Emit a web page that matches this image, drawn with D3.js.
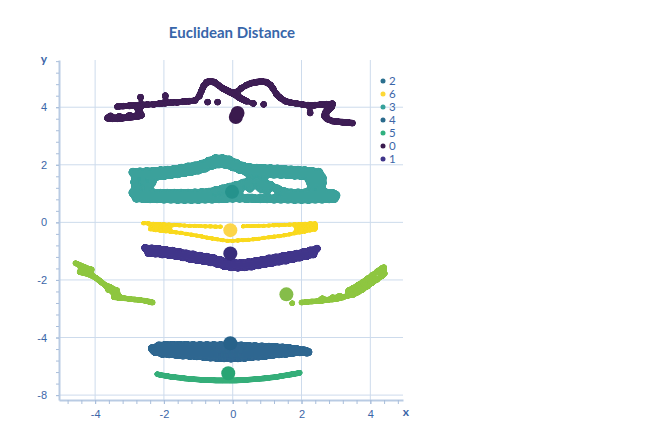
<!DOCTYPE html>
<html>
<head>
<meta charset="utf-8">
<script src="https://cdn.jsdelivr.net/npm/d3@7"></script>
<style>
  body { margin: 0; background: #fff; }
  svg { font-family: Lato, "Open Sans", sans-serif; }
  .axis text { fill: #3b66a8; font-size: 11px; }
  .axis .domain { stroke: #b9cbe3; stroke-width: 2; }
  .axis line { stroke: #a9bedb; }
</style>
</head>
<body>
<div id="wrapper"></div>
<script>
// tick values + labels
const xTickValues = [-4, -2, 0, 2, 4];
const xTickLabels = ["-4", "-2", "0", "2", "4"];
const yTickValues = [4, 2, 0, -2, -4, -6];
const yTickLabels = ["4", "2", "0", "-2", "-4", "-8"];

// legend
const legendLabels = ["2", "6", "3", "4", "5", "0", "1"];
const legendColors = ["#2b6f8e", "#fdd835", "#36a19b", "#2a6a8c", "#30b07f", "#3a1a4e", "#40358a"];

// cluster points (x, y)
const cluster0 = [
  [-3.64,3.62],[-3.50,3.60],[-3.35,3.60],[-3.21,3.62],[-3.06,3.64],[-2.92,3.66],[-2.77,3.68],[-2.65,3.72],[-3.55,3.70],[-3.30,3.68],[-3.00,3.72],[-2.70,3.80],[-2.74,3.90],
  [-3.35,4.02],[-3.18,4.04],[-3.00,4.05],[-2.83,4.06],[-2.65,4.07],[-2.48,4.09],[-2.30,4.10],[-2.13,4.12],[-1.96,4.14],[-1.78,4.16],[-1.61,4.17],[-1.44,4.19],[-1.27,4.21],[-1.10,4.23],
  [-0.97,4.39],[-0.91,4.56],[-0.85,4.73],[-0.76,4.87],[-0.65,4.90],[-0.53,4.87],[-0.42,4.77],[-0.30,4.66],[-0.18,4.59],[-0.07,4.52],[0.05,4.45],[0.17,4.35],[0.28,4.28],[0.40,4.21],
  [0.11,4.52],[0.25,4.66],[0.40,4.77],[0.54,4.84],[0.69,4.87],[0.83,4.90],[0.98,4.87],[1.10,4.77],[1.18,4.63],[1.27,4.45],[1.39,4.32],[1.53,4.21],[1.68,4.16],[1.85,4.13],[2.03,4.09],[2.20,4.07],[2.38,4.07],[2.55,4.09],[2.72,4.11],[2.90,4.12],
  [2.87,4.00],[2.78,3.90],[2.69,3.80],[2.67,3.69],[2.75,3.59],[2.90,3.52],[3.04,3.50],[3.19,3.48],[3.33,3.47],[3.48,3.45],
  [-0.73,4.18],[-0.44,4.18],[0.60,4.13],[0.90,4.10],[-2.68,4.35],[-1.96,4.40],[2.25,3.80]
];

const cluster3 = [
  // top band
  [-2.9,1.74],[-2.7,1.75],[-2.5,1.76],[-2.3,1.77],[-2.1,1.79],[-1.9,1.81],[-1.7,1.84],[-1.5,1.88],[-1.3,1.92],[-1.1,1.96],[-0.9,2.02],[-0.7,2.12],[-0.5,2.21],[-0.3,2.21],[-0.1,2.17],
  [0.1,2.05],[0.3,1.95],[0.5,1.90],[0.7,1.88],[0.9,1.87],[1.1,1.86],[1.3,1.85],[1.5,1.84],[1.7,1.82],[1.9,1.81],[2.1,1.79],[2.3,1.77],[2.5,1.74],
  [-2.8,1.58],[-2.6,1.59],[-2.4,1.60],[-2.2,1.61],[-2.0,1.63],[-1.8,1.66],[-1.6,1.69],[-1.4,1.73],[-1.2,1.77],[-1.0,1.82],[-0.8,1.89],[-0.6,1.98],[-0.4,2.03],[-0.2,2.01],
  [0.0,1.93],[0.2,1.84],[0.4,1.76],[0.6,1.71],[0.8,1.70],[1.0,1.69],[1.2,1.68],[1.4,1.67],[1.6,1.66],[1.8,1.64],[2.0,1.63],[2.2,1.61],[2.4,1.58],[2.6,1.55],
  // side columns
  [-2.85,1.40],[-2.6,1.40],[-2.35,1.38],[-2.8,1.22],[-2.5,1.22],
  [2.25,1.42],[2.45,1.42],[2.6,1.36],[2.3,1.24],[2.55,1.22],
  // bottom band
  [-2.9,1.03],[-2.7,1.02],[-2.5,1.01],[-2.3,1.01],[-2.1,1.01],[-1.9,1.01],[-1.7,1.01],[-1.5,1.01],[-1.3,1.01],[-1.1,1.02],[-0.9,1.03],[-0.7,1.05],[-0.5,1.10],[-0.3,1.16],[-0.1,1.22],
  [0.1,1.28],[0.3,1.36],[0.5,1.42],[0.7,1.43],[0.9,1.38],[1.1,1.28],[1.3,1.16],[1.5,1.06],[1.7,1.02],[1.9,1.02],[2.1,1.02],[2.3,1.02],[2.5,1.02],[2.7,1.02],[2.9,1.00],[3.0,0.94],
  [0.2,1.14],[0.5,1.20],[0.8,1.20],[1.0,1.14],
  [-2.8,0.84],[-2.6,0.83],[-2.4,0.82],[-2.2,0.82],[-2.0,0.81],[-1.8,0.81],[-1.6,0.80],[-1.4,0.80],[-1.2,0.80],[-1.0,0.80],[-0.8,0.81],[-0.6,0.81],[-0.4,0.82],[-0.2,0.83],
  [0.0,0.84],[0.2,0.84],[0.4,0.83],[0.6,0.83],[0.8,0.82],[1.0,0.82],[1.2,0.81],[1.4,0.81],[1.6,0.81],[1.8,0.80],[2.0,0.80],[2.2,0.80],[2.4,0.81],[2.6,0.81],[2.8,0.82],[2.95,0.83]
];

const cluster6 = [
  [-2.6,-0.03],[-2.45,-0.04],[-2.3,-0.05],[-2.15,-0.06],[-2.0,-0.07],[-1.85,-0.08],[-1.7,-0.09],[-1.55,-0.10],[-1.4,-0.11],[-1.25,-0.12],[-1.1,-0.12],[-0.95,-0.13],[-0.8,-0.14],[-0.65,-0.14],[-0.5,-0.15],[-0.35,-0.15],
  [0.3,-0.14],[0.45,-0.13],[0.6,-0.13],[0.75,-0.12],[0.9,-0.12],[1.05,-0.11],[1.2,-0.10],[1.35,-0.10],[1.5,-0.09],[1.65,-0.08],[1.8,-0.07],[1.95,-0.06],[2.1,-0.05],[2.25,-0.04],[2.4,-0.04],
  [-2.4,-0.24],[-2.25,-0.27],[-2.1,-0.29],[-1.95,-0.31],[-1.8,-0.33],[-1.65,-0.35],[-1.5,-0.37],[-1.35,-0.40],[-1.2,-0.43],[-1.05,-0.46],[-0.9,-0.49],[-0.75,-0.53],[-0.6,-0.56],[-0.45,-0.59],[-0.3,-0.62],[-0.15,-0.64],
  [0.0,-0.64],[0.15,-0.63],[0.3,-0.62],[0.45,-0.61],[0.6,-0.59],[0.75,-0.57],[0.9,-0.54],[1.05,-0.52],[1.2,-0.50],[1.35,-0.48],[1.5,-0.45],[1.65,-0.42],[1.8,-0.38],[1.95,-0.35],[2.1,-0.32],[2.25,-0.28],[2.4,-0.25],
  [1.85,-0.22],[2.0,-0.20],[2.2,-0.17],[2.4,-0.15],[-2.2,-0.15],[-2.0,-0.17],[-1.85,-0.20]
];

const cluster1 = [
  [-2.55,-0.88],[-2.35,-0.90],[-2.15,-0.92],[-1.95,-0.95],[-1.75,-0.98],[-1.55,-1.02],[-1.35,-1.07],[-1.15,-1.11],[-0.95,-1.15],[-0.75,-1.19],[-0.55,-1.24],[-0.35,-1.31],[-0.15,-1.37],
  [0.05,-1.40],[0.25,-1.40],[0.45,-1.38],[0.65,-1.34],[0.85,-1.30],[1.05,-1.25],[1.25,-1.21],[1.45,-1.17],[1.65,-1.13],[1.85,-1.08],[2.05,-1.03],[2.25,-0.97],[2.45,-0.91],
  [-2.45,-1.07],[-2.25,-1.09],[-2.05,-1.12],[-1.85,-1.14],[-1.65,-1.18],[-1.45,-1.22],[-1.25,-1.27],[-1.05,-1.31],[-0.85,-1.35],[-0.65,-1.39],[-0.45,-1.45],[-0.25,-1.52],[-0.05,-1.57],
  [0.15,-1.58],[0.35,-1.57],[0.55,-1.54],[0.75,-1.50],[0.95,-1.45],[1.15,-1.41],[1.35,-1.37],[1.55,-1.33],[1.75,-1.28],[1.95,-1.23],[2.15,-1.18],[2.35,-1.12]
];

const cluster2 = [
  [-4.57,-1.42],[-4.45,-1.48],[-4.33,-1.54],[-4.22,-1.60],[-4.10,-1.64],
  [-4.45,-1.72],[-4.33,-1.76],[-4.20,-1.80],[-4.08,-1.86],[-3.97,-1.93],[-3.88,-2.02],[-3.80,-2.10],[-3.70,-2.18],[-3.58,-2.24],[-3.50,-2.30],[-3.62,-2.35],[-3.48,-2.38],[-3.36,-2.36],
  [-3.45,-2.48],[-3.32,-2.55],[-3.45,-2.60],[-3.30,-2.63],[-3.15,-2.64],[-3.00,-2.66],[-2.85,-2.68],[-2.70,-2.70],[-2.55,-2.72],[-2.42,-2.76],[-2.33,-2.78],
  [1.73,-2.81],
  [2.0,-2.78],[2.15,-2.77],[2.3,-2.75],[2.45,-2.74],[2.6,-2.72],[2.75,-2.70],[2.9,-2.68],[3.05,-2.65],[3.2,-2.61],[3.35,-2.55],
  [2.6,-2.64],[2.9,-2.60],[3.1,-2.55],
  [3.36,-2.36],[3.50,-2.27],[3.64,-2.17],[3.78,-2.06],[3.92,-1.94],[4.06,-1.82],[4.20,-1.70],[4.32,-1.60],[4.40,-1.56],
  [3.50,-2.52],[3.64,-2.44],[3.78,-2.34],[3.92,-2.23],[4.06,-2.11],[4.20,-1.99],[4.34,-1.87],[4.42,-1.78]
];

const cluster4 = [
  [-2.35,-4.37],[-2.15,-4.28],[-1.95,-4.26],[-1.75,-4.26],[-1.55,-4.26],[-1.35,-4.26],[-1.15,-4.27],[-0.95,-4.27],[-0.75,-4.27],[-0.55,-4.27],[-0.35,-4.27],[-0.15,-4.27],
  [0.05,-4.27],[0.25,-4.28],[0.45,-4.29],[0.65,-4.30],[0.85,-4.31],[1.05,-4.32],[1.25,-4.33],[1.45,-4.35],[1.65,-4.37],[1.85,-4.40],[2.05,-4.45],[2.20,-4.50],
  [-2.3,-4.44],[-2.1,-4.43],[-1.9,-4.42],[-1.7,-4.43],[-1.5,-4.44],[-1.3,-4.45],[-1.1,-4.46],[-0.9,-4.47],[-0.7,-4.48],[-0.5,-4.49],[-0.3,-4.50],[-0.1,-4.50],
  [0.1,-4.50],[0.3,-4.50],[0.5,-4.49],[0.7,-4.48],[0.9,-4.47],[1.1,-4.46],[1.3,-4.45],[1.5,-4.45],[1.7,-4.45],[1.9,-4.45],[2.1,-4.46],
  [-2.25,-4.50],[-2.05,-4.56],[-1.85,-4.58],[-1.65,-4.60],[-1.45,-4.62],[-1.25,-4.63],[-1.05,-4.65],[-0.85,-4.67],[-0.65,-4.69],[-0.45,-4.71],[-0.25,-4.72],[-0.05,-4.73],
  [0.15,-4.72],[0.35,-4.70],[0.55,-4.68],[0.75,-4.66],[0.95,-4.63],[1.15,-4.61],[1.35,-4.58],[1.55,-4.56],[1.75,-4.53],[1.95,-4.51],[2.15,-4.52]
];

const cluster5 = [
  [-2.2,-5.27],[-2.1,-5.30],[-2.0,-5.32],[-1.9,-5.34],[-1.8,-5.36],[-1.7,-5.37],[-1.6,-5.39],[-1.5,-5.40],[-1.4,-5.42],[-1.3,-5.43],[-1.2,-5.44],[-1.1,-5.45],[-1.0,-5.46],
  [-0.9,-5.47],[-0.8,-5.47],[-0.7,-5.48],[-0.6,-5.48],[-0.5,-5.49],[-0.4,-5.49],[-0.3,-5.49],[-0.2,-5.49],[-0.1,-5.49],[0.0,-5.49],[0.1,-5.49],[0.2,-5.48],[0.3,-5.48],
  [0.4,-5.47],[0.5,-5.46],[0.6,-5.45],[0.7,-5.44],[0.8,-5.43],[0.9,-5.42],[1.0,-5.41],[1.1,-5.39],[1.2,-5.38],[1.3,-5.36],[1.4,-5.34],[1.5,-5.32],[1.6,-5.30],
  [1.7,-5.28],[1.8,-5.26],[1.9,-5.24],[1.95,-5.22]
];

// centroids (x, y) and their colours
const centroids = [[0.09,3.66],[0.14,3.80],[-0.02,1.06],[-0.07,-0.27],[-0.07,-1.08],[1.56,-2.50],[-0.07,-4.20],[-0.13,-5.24]];
const centroidColors = ["#3a1a4e","#3a1a4e","#25928c","#fcd549","#382d7c","#85bd4a","#27628a","#28a574"];

const series = [
  {points: cluster0, color: "#3e1f55", r: 3.4},
  {points: cluster3, color: "#3aa19b", r: 4.5},
  {points: cluster6, color: "#f9d91c", r: 2.4},
  {points: cluster1, color: "#40358a", r: 3.8},
  {points: cluster2, color: "#8ec63f", r: 3},
  {points: cluster4, color: "#2d6690", r: 4},
  {points: cluster5, color: "#36ae79", r: 2.8}
];

const width = 659, height = 442;

const svg = d3.select('#wrapper')
  .append('svg')
  .attr('width', width)
  .attr('height', height);

// blur + threshold so the dense dots read as one band
const filter = svg.append('defs').append('filter')
  .attr('id', 'merge')
  .attr('filterUnits', 'userSpaceOnUse')
  .attr('x', 0).attr('y', 0).attr('width', width).attr('height', height);
filter.append('feGaussianBlur').attr('in', 'SourceGraphic').attr('stdDeviation', 1.6).attr('result', 'blur');
filter.append('feColorMatrix').attr('in', 'blur').attr('type', 'matrix')
  .attr('values', '1 0 0 0 0  0 1 0 0 0  0 0 1 0 0  0 0 0 9 -3.2');

const x = d3.scaleLinear().domain([-5.05, 4.95]).range([59, 403]);
const y = d3.scaleLinear().domain([5.64, -6.17]).range([60, 400]);

// grid
const grid = svg.append('g').attr('stroke', '#cddbec').attr('stroke-width', 1);
grid.selectAll('.vx').data(xTickValues).join('line')
  .attr('x1', d => x(d)).attr('x2', d => x(d))
  .attr('y1', y.range()[0]).attr('y2', y.range()[1]);
grid.selectAll('.hy').data(yTickValues).join('line')
  .attr('y1', d => y(d)).attr('y2', d => y(d))
  .attr('x1', x.range()[0]).attr('x2', x.range()[1]);

// axes: minor ticks, then major with labels
const xMinor = d3.range(-4.8, 4.81, 0.4);
const yMinor = d3.range(-6, 5.61, 0.4);

svg.append('g').attr('class', 'axis')
  .attr('transform', `translate(0,${y.range()[1]})`)
  .call(d3.axisBottom(x).tickValues(xMinor).tickSize(4).tickSizeOuter(0).tickFormat(''));
svg.append('g').attr('class', 'axis')
  .attr('transform', `translate(0,${y.range()[1]})`)
  .call(d3.axisBottom(x).tickValues(xTickValues).tickSize(4).tickSizeOuter(0).tickPadding(6)
    .tickFormat((d, i) => xTickLabels[i]))
  .call(g => g.select('.domain').remove());

svg.append('g').attr('class', 'axis')
  .attr('transform', `translate(${x.range()[0]},0)`)
  .call(d3.axisLeft(y).tickValues(yMinor).tickSize(3).tickSizeOuter(0).tickFormat(''));
svg.append('g').attr('class', 'axis')
  .attr('transform', `translate(${x.range()[0]},0)`)
  .call(d3.axisLeft(y).tickValues(yTickValues).tickSize(3).tickSizeOuter(0).tickPadding(9)
    .tickFormat((d, i) => yTickLabels[i]))
  .call(g => g.select('.domain').remove());

svg.append('text').attr('x', 44).attr('y', 63).attr('text-anchor', 'middle')
  .attr('fill', '#3b66a8').attr('font-size', 12).attr('font-weight', 'bold').text('y');
svg.append('text').attr('x', 406).attr('y', 416).attr('text-anchor', 'middle')
  .attr('fill', '#3b66a8').attr('font-size', 12).attr('font-weight', 'bold').text('x');

// points
series.forEach(s => {
  svg.append('g').attr('filter', 'url(#merge)')
    .append('g').attr('fill', s.color)
    .selectAll('circle').data(s.points).join('circle')
    .attr('cx', d => x(d[0]))
    .attr('cy', d => y(d[1]))
    .attr('r', s.r);
});

// centroids
svg.append('g').selectAll('circle').data(centroids).join('circle')
  .attr('cx', d => x(d[0]))
  .attr('cy', d => y(d[1]))
  .attr('r', 7)
  .attr('fill', (d, i) => centroidColors[i]);

// title
svg.append('text').attr('x', 232).attr('y', 38).attr('text-anchor', 'middle')
  .attr('fill', '#3866aa').attr('font-size', 15).attr('font-weight', 'bold')
  .text('Euclidean Distance');

// legend
const legend = svg.append('g').attr('transform', 'translate(383,81)');
const rows = legend.selectAll('g').data(legendLabels).join('g')
  .attr('transform', (d, i) => `translate(0,${i * 13})`);
rows.append('circle').attr('r', 2.5).attr('fill', (d, i) => legendColors[i]);
rows.append('text').attr('x', 6).attr('dy', '0.35em')
  .attr('fill', '#3b66a8').attr('font-size', 11.5).text(d => d);
</script>
</body>
</html>
